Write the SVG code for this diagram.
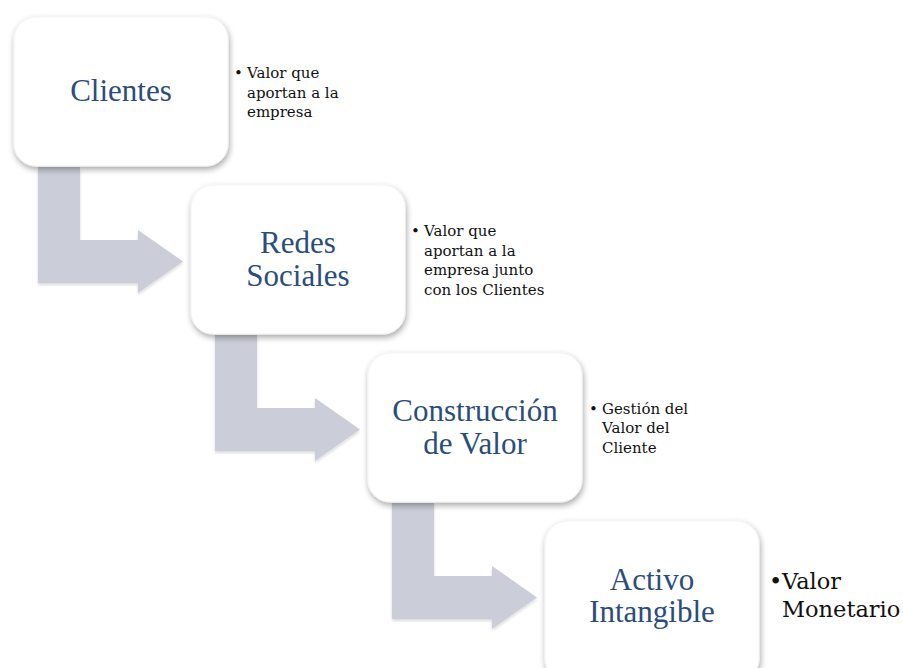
<svg xmlns="http://www.w3.org/2000/svg" width="903" height="668" viewBox="0 0 903 668">
<defs>
<style>
.box{fill:#ffffff;stroke:#f2f2f2;stroke-width:1}
.arrow{fill:#cbced8}
.title{font-family:"Liberation Serif","DejaVu Serif",serif;font-size:31px;fill:#2a4d7c;text-anchor:middle}
.note{font-family:"DejaVu Serif","Liberation Serif",serif;font-size:15px;fill:#111111}
.big{font-family:"DejaVu Serif","Liberation Serif",serif;font-size:22.5px;fill:#111111}
</style>
<filter id="sh" x="-20%" y="-20%" width="140%" height="140%">
<feGaussianBlur in="SourceAlpha" stdDeviation="3"/>
<feOffset dx="1" dy="3" result="b"/>
<feComponentTransfer><feFuncA type="linear" slope="0.35"/></feComponentTransfer>
<feMerge><feMergeNode/><feMergeNode in="SourceGraphic"/></feMerge>
</filter>
<filter id="ash" x="-20%" y="-20%" width="140%" height="140%">
<feGaussianBlur in="SourceAlpha" stdDeviation="1.5"/>
<feOffset dx="0" dy="2" result="b"/>
<feComponentTransfer><feFuncA type="linear" slope="0.15"/></feComponentTransfer>
<feMerge><feMergeNode/><feMergeNode in="SourceGraphic"/></feMerge>
</filter>
</defs>
<rect width="903" height="668" fill="#ffffff"/>
<g id="connectors">
<path class="arrow" filter="url(#ash)" d="M38,167 H80 V240 H138 V230 L183,261.5 L138,293 V283 H38 Z"/>
<path class="arrow" filter="url(#ash)" d="M215,335 H257 V408 H315 V398 L360,429.5 L315,461 V451 H215 Z"/>
<path class="arrow" filter="url(#ash)" d="M392,503 H434 V576 H492 V566 L537,597.5 L492,629 V619 H392 Z"/>
</g>
<g id="node-clientes">
<rect class="box" filter="url(#sh)" x="14" y="17" width="214" height="149" rx="22"/>
<text class="title" x="121" y="101">Clientes</text>
</g>
<g id="note-clientes">
<text class="note" x="234" y="78">•</text>
<text class="note" x="247" y="78">Valor que</text>
<text class="note" x="247" y="98">aportan a la</text>
<text class="note" x="247" y="117">empresa</text>
</g>
<g id="node-redes">
<rect class="box" filter="url(#sh)" x="191" y="185" width="214" height="149" rx="22"/>
<text class="title" x="298" y="253">Redes</text>
<text class="title" x="298" y="286">Sociales</text>
</g>
<g id="note-redes">
<text class="note" x="411" y="236">•</text>
<text class="note" x="424" y="236">Valor que</text>
<text class="note" x="424" y="256">aportan a la</text>
<text class="note" x="424" y="275">empresa junto</text>
<text class="note" x="424" y="295">con los Clientes</text>
</g>
<g id="node-construccion">
<rect class="box" filter="url(#sh)" x="368" y="353" width="214" height="149" rx="22"/>
<text class="title" x="475" y="421">Construcción</text>
<text class="title" x="475" y="454">de Valor</text>
</g>
<g id="note-construccion">
<text class="note" x="589" y="414">•</text>
<text class="note" x="602" y="414">Gestión del</text>
<text class="note" x="602" y="433">Valor del</text>
<text class="note" x="602" y="453">Cliente</text>
</g>
<g id="node-activo">
<rect class="box" filter="url(#sh)" x="545" y="521" width="214" height="160" rx="22"/>
<text class="title" x="652" y="590">Activo</text>
<text class="title" x="652" y="622">Intangible</text>
</g>
<g id="note-activo">
<text class="big" x="769" y="589">•</text>
<text class="big" x="782" y="589">Valor</text>
<text class="big" x="782" y="617">Monetario</text>
</g>
</svg>
